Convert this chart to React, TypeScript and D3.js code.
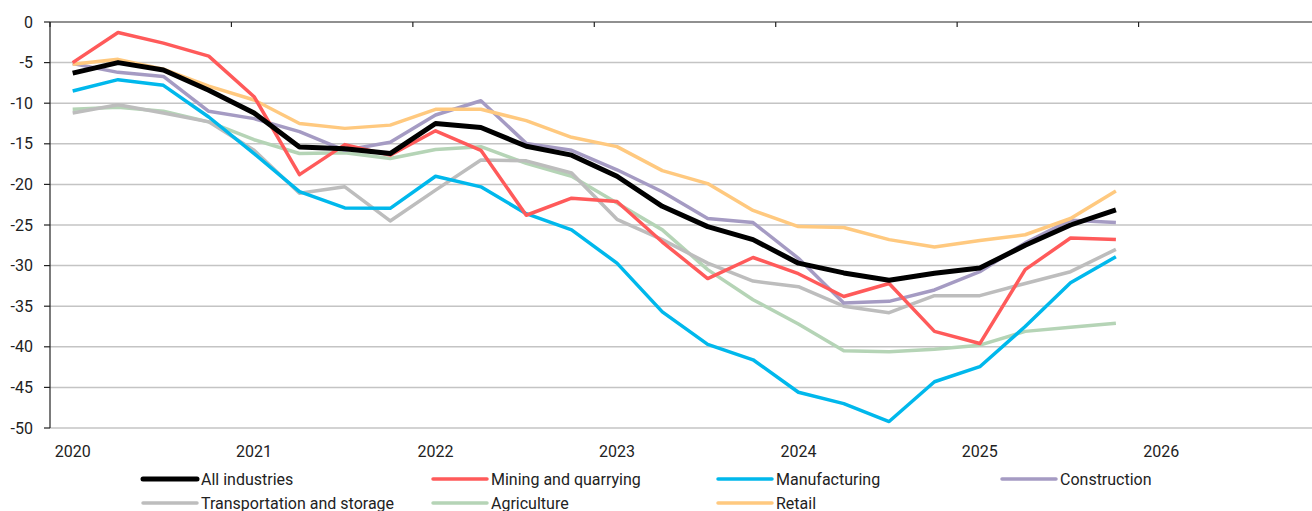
import React from "react";
import * as d3 from "d3";

const years = ["2020", "2021", "2022", "2023", "2024", "2025", "2026"];
const yTicks = [0, -5, -10, -15, -20, -25, -30, -35, -40, -45, -50];

const allIndustries = [-6.3, -5.0, -5.9, -8.4, -11.2, -15.4, -15.6, -16.2, -12.5, -13.0, -15.3, -16.4, -19.0, -22.7, -25.2, -26.8, -29.7, -30.9, -31.8, -30.95, -30.3, -27.5, -25.0, -23.15];
const mining = [-5.0, -1.3, -2.6, -4.2, -9.2, -18.8, -15.1, -16.4, -13.4, -15.8, -23.8, -21.7, -22.1, -27.1, -31.6, -29.0, -31.0, -33.8, -32.2, -38.1, -39.6, -30.5, -26.6, -26.8];
const manufacturing = [-8.5, -7.1, -7.8, -11.7, -16.2, -20.9, -22.9, -22.95, -19.0, -20.3, -23.6, -25.6, -29.7, -35.7, -39.7, -41.6, -45.6, -47.0, -49.2, -44.3, -42.45, -37.5, -32.1, -28.9];
const construction = [-5.1, -6.2, -6.7, -11.0, -11.9, -13.5, -15.8, -14.8, -11.45, -9.7, -14.95, -15.8, -18.2, -20.9, -24.2, -24.7, -29.1, -34.6, -34.4, -33.0, -30.75, -27.2, -24.4, -24.7];
const transportation = [-11.2, -10.2, -11.2, -12.3, -15.8, -21.1, -20.3, -24.5, -20.7, -17.0, -17.1, -18.6, -24.3, -26.8, -29.7, -31.9, -32.6, -35.0, -35.8, -33.7, -33.7, -32.2, -30.75, -28.0];
const agriculture = [-10.75, -10.5, -11.0, -12.3, -14.5, -16.2, -16.1, -16.8, -15.7, -15.35, -17.4, -19.0, -22.3, -25.6, -30.5, -34.2, -37.2, -40.5, -40.6, -40.3, -39.8, -38.1, -37.6, -37.1];
const retail = [-5.2, -4.6, -5.8, -7.9, -9.6, -12.5, -13.1, -12.7, -10.75, -10.75, -12.15, -14.2, -15.35, -18.3, -19.9, -23.2, -25.2, -25.3, -26.8, -27.7, -26.9, -26.2, -24.2, -20.8];

const seriesNames = ["All industries", "Mining and quarrying", "Manufacturing", "Construction", "Transportation and storage", "Agriculture", "Retail"];
const seriesValues = [allIndustries, mining, manufacturing, construction, transportation, agriculture, retail];
const seriesColors = ["#000000", "#FF5A5A", "#00B8EC", "#A59BC3", "#BDBDBD", "#B5D4B6", "#FFC97F"];
const seriesWidths = [5, 3.5, 3.5, 3.5, 3.5, 3.5, 3.5];
// draw order (back to front)
const drawOrder = [5, 4, 3, 6, 2, 1, 0];

const W = 1312;
const H = 511;
const FONT = "Roboto, 'Open Sans', sans-serif";

export default function App() {
  const x = d3.scaleLinear().domain([-0.5, 27.5]).range([50, 1320]);
  const y = d3.scaleLinear().domain([-50, 0]).range([428, 22]);
  const line = d3
    .line<number>()
    .x((_, i) => x(i))
    .y((d) => y(d));

  const legendCols = [143, 433, 718, 1002];
  const legendRows = [479, 503];

  return (
    <svg width={W} height={H} style={{ position: "absolute", left: 0, top: 0, background: "#fff" }} fontFamily={FONT}>
      {yTicks.filter((t) => t !== 0).map((t) => (
        <line key={t} x1={50} x2={W} y1={y(t)} y2={y(t)} stroke="#C4C4C4" strokeWidth={1.5} />
      ))}
      <line x1={50} x2={50} y1={y(0)} y2={y(-50)} stroke="#222" strokeWidth={1.2} />
      {yTicks.map((t) => (
        <g key={"yt" + t}>
          <line x1={44} x2={50} y1={y(t)} y2={y(t)} stroke="#222" strokeWidth={1.2} />
          <text x={33} y={y(t)} dy="0.35em" textAnchor="end" fontSize={16} fill="#222">
            {t}
          </text>
        </g>
      ))}
      <line x1={50} x2={W} y1={y(0)} y2={y(0)} stroke="#222" strokeWidth={1.2} />
      {years.map((yr, k) => (
        <g key={yr}>
          <line x1={x(k * 4 - 0.5)} x2={x(k * 4 - 0.5)} y1={y(0)} y2={y(0) + 5} stroke="#222" strokeWidth={1.2} />
          <text x={x(k * 4)} y={457} textAnchor="middle" fontSize={16} fill="#222">
            {yr}
          </text>
        </g>
      ))}
      {drawOrder.map((s) => (
        <path
          key={seriesNames[s]}
          d={line(seriesValues[s]) || ""}
          fill="none"
          stroke={seriesColors[s]}
          strokeWidth={seriesWidths[s]}
          strokeLinejoin="round"
        />
      ))}
      {seriesNames.map((name, i) => {
        const col = i % 4;
        const row = Math.floor(i / 4);
        const lx = legendCols[col];
        const ly = legendRows[row];
        return (
          <g key={"lg" + name}>
            <line x1={lx} x2={lx + 54} y1={ly} y2={ly} stroke={seriesColors[i]} strokeWidth={seriesWidths[i]} strokeLinecap="round" />
            <text x={lx + 58} y={ly} dy="0.35em" fontSize={16} fill="#222">
              {name}
            </text>
          </g>
        );
      })}
    </svg>
  );
}
